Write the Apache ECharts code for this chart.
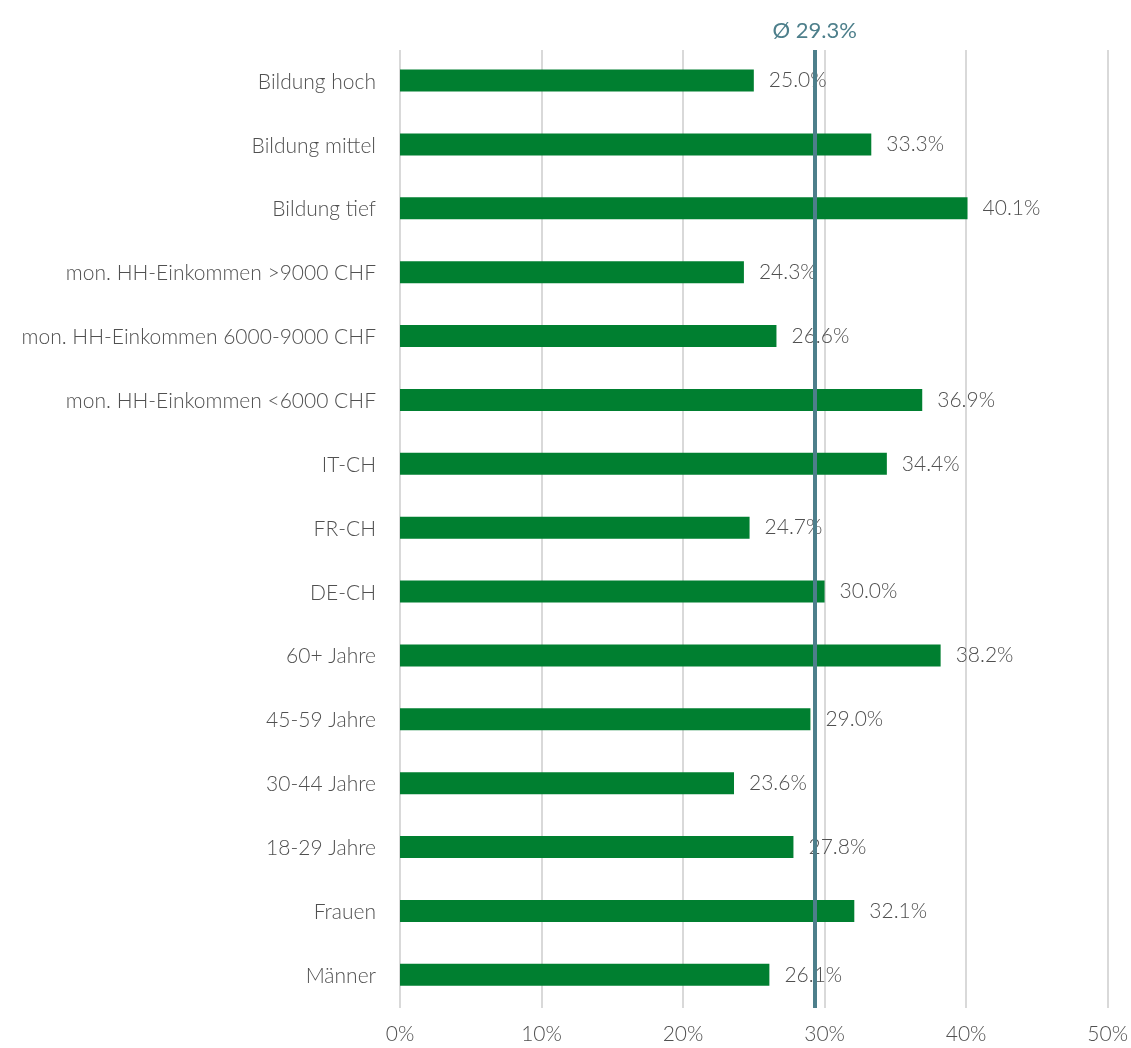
<!DOCTYPE html>
<html>
<head>
<meta charset="utf-8">
<script src="https://cdn.jsdelivr.net/npm/echarts@6/dist/echarts.min.js"></script>
<style>
  html, body { margin: 0; padding: 0; background: #fff; }
  #chart { width: 1131px; height: 1048px; }
</style>
</head>
<body>
<div id="chart"></div>
<script>
// Categories listed bottom-to-top (category axis starts at the bottom)
const categories = [
  'Männer', 'Frauen', '18-29 Jahre', '30-44 Jahre', '45-59 Jahre', '60+ Jahre',
  'DE-CH', 'FR-CH', 'IT-CH',
  'mon. HH-Einkommen <6000 CHF', 'mon. HH-Einkommen 6000-9000 CHF', 'mon. HH-Einkommen >9000 CHF',
  'Bildung tief', 'Bildung mittel', 'Bildung hoch'
];
const shares = [26.1, 32.1, 27.8, 23.6, 29.0, 38.2, 30.0, 24.7, 34.4, 36.9, 26.6, 24.3, 40.1, 33.3, 25.0];
const average = 29.3;
const axisTicks = [0, 10, 20, 30, 40, 50];

const FONT = 'Lato';
const TEXT = '#505050';

const chart = echarts.init(document.getElementById('chart'));
chart.setOption({
  animation: false,
  grid: { left: 400, right: 23, top: 50, bottom: 40, containLabel: false },
  xAxis: {
    type: 'value',
    min: axisTicks[0],
    max: axisTicks[axisTicks.length - 1],
    interval: 10,
    axisLine: { show: false },
    axisTick: { show: false },
    splitLine: { show: true, lineStyle: { color: '#d9d9d9', width: 2 } },
    axisLabel: {
      formatter: v => v + '%',
      color: TEXT, fontFamily: FONT, fontSize: 21, fontWeight: 300, margin: 16
    }
  },
  yAxis: {
    type: 'category',
    data: categories,
    axisLine: { show: false },
    axisTick: { show: false },
    axisLabel: { color: TEXT, fontFamily: FONT, fontSize: 21, fontWeight: 300, margin: 24 }
  },
  series: [
    {
      type: 'bar',
      data: shares,
      barWidth: 22,
      z: 2,
      itemStyle: { color: '#007f30' },
      label: {
        show: true,
        position: 'right',
        distance: 15,
        formatter: p => p.value.toFixed(1) + '%',
        color: TEXT, fontFamily: FONT, fontSize: 21, fontWeight: 300
      }
    },
    {
      // average marker drawn above bars and their labels
      type: 'bar',
      data: [],
      z: 10,
      markLine: {
        silent: true,
        symbol: ['none', 'none'],
        lineStyle: { color: '#4d7f8b', width: 4, type: 'solid' },
        label: {
          show: true,
          position: 'end',
          distance: 8,
          formatter: 'Ø ' + average.toFixed(1) + '%',
          color: '#4d7f8b', fontFamily: FONT, fontSize: 22
        },
        data: [{ xAxis: average }]
      }
    }
  ]
});
</script>
</body>
</html>
